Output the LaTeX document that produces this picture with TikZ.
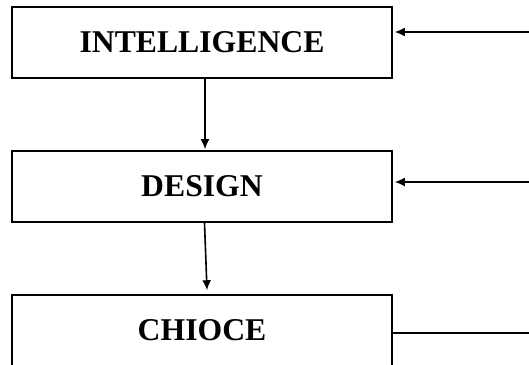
\documentclass[tikz,border=0pt]{standalone}
\usepackage{fontspec}
\setmainfont{Liberation Serif}
\usetikzlibrary{arrows.meta}
\usetikzlibrary{calc}

\tikzset{
  stagebox/.style={draw,line width=1.6pt,minimum width=380pt,minimum height=71pt,inner sep=0pt,
    font=\fontsize{31.7}{38}\selectfont\bfseries},
  flow/.style={-{Latex[length=10pt,width=9pt]},line width=1.6pt}
}

\begin{document}
\begin{tikzpicture}[x=1pt,y=-1pt]
				% Cadre
				\useasboundingbox (0,0) rectangle (529,364);
				% Boites
				\node [stagebox] (intel)  at (202,42.5)  {INTELLIGENCE};
				\node [stagebox] (design) at (202,186.5) {DESIGN};
				\node [stagebox] (choice) at (202,330.5) {CHIOCE};
				% Bords libres
				\coordinate (inA) at (529,32);
				\coordinate (inB) at (529,182);
				\coordinate (outC) at (529,333);
				% Flèches
				\draw [flow] ([xshift=3pt]intel.south) -- ([xshift=3pt,yshift=1pt]design.north);
				\draw [flow] ([xshift=2.5pt]design.south) -- ([xshift=5pt,yshift=4pt]choice.north);
				\draw [flow] (inA) -- ([xshift=2pt]inA -| intel.east);
				\draw [flow] (inB) -- ([xshift=2pt]inB -| design.east);
				\draw [line width=1.6pt] (outC -| choice.east) -- (outC);
\end{tikzpicture}
\end{document}
